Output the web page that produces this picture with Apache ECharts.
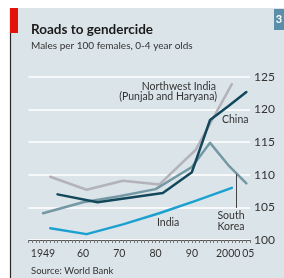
<!DOCTYPE html>
<html><head><meta charset="utf-8">
<script src="https://cdn.jsdelivr.net/npm/echarts@6/dist/echarts.min.js"></script>
<style>html,body{margin:0;padding:0;background:#fff}#c{width:284px;height:278px}</style>
</head><body><div id="c"></div>
<script>
const nwIndiaYears = [1951, 1961, 1971, 1981, 1991, 2001];
const nwIndiaValues = [109.7, 107.7, 109.1, 108.5, 113.8, 123.9];
const indiaYears = [1951, 1961, 1971, 1981, 1991, 2001];
const indiaValues = [101.8, 100.9, 102.4, 104.1, 106.0, 108.0];
const chinaYears = [1953, 1964, 1982, 1990, 1995, 2000, 2005];
const chinaValues = [107.0, 105.8, 107.2, 110.4, 118.4, 120.5, 122.7];
const koreaYears = [1949, 1960, 1970, 1980, 1990, 1995, 2000, 2005];
const koreaValues = [104.1, 105.8, 106.7, 107.8, 111.2, 114.9, 111.5, 108.7];
const xTickValues = [1949, 1960, 1970, 1980, 1990, 2000];
const xTickText = ['1949', '60', '70', '80', '90', '2000'];
const xExtraTickValues = [2005];
const xExtraTickText = ['05'];
const xMin = 1945, xMax = 2006, xStep = 1;
const yMin = 100, yMax = 125, yStep = 5;

const pairs = (xs, ys) => xs.map((x, i) => [x, ys[i]]);

const FONT = 'Lato';
const chart = echarts.init(document.getElementById('c'), null, {renderer: 'canvas'});
const lineSeries = (name, data, color, z) => ({
  name, type: 'line', data, symbol: 'none', smooth: false, z,
  lineStyle: {color, width: 2.5, cap: 'round', join: 'round'}
});
const labelStyle = {color: '#333', fontFamily: FONT, fontSize: 10.5};

chart.setOption({
  backgroundColor: '#dbe4e9',
  animation: false,
  grid: {left: 28.5, right: 34, top: 77, bottom: 38},
  xAxis: [{
    type: 'value', min: xMin, max: xMax, interval: xStep,
    splitLine: {show: false},
    axisLine: {show: true, onZero: false, lineStyle: {color: '#555', width: 1}},
    axisTick: {show: true, length: 3, inside: false, lineStyle: {color: '#777', width: 1}},
    axisLabel: Object.assign({
      customValues: xTickValues, margin: 8,
      formatter: v => xTickText[xTickValues.indexOf(v)] ?? ''
    }, labelStyle)
  }, {
    type: 'value', min: xMin, max: xMax, interval: xStep, position: 'bottom',
    splitLine: {show: false}, axisLine: {show: false}, axisTick: {show: false},
    axisLabel: Object.assign({
      customValues: xExtraTickValues, margin: 8, padding: [0, 0, 0, 4],
      formatter: v => xExtraTickText[xExtraTickValues.indexOf(v)] ?? ''
    }, labelStyle)
  }],
  yAxis: {
    type: 'value', position: 'right', min: yMin, max: yMax, interval: yStep,
    axisLine: {show: false}, axisTick: {show: false},
    splitLine: {show: true, lineStyle: {color: '#ffffff', width: 1.5}},
    axisLabel: {margin: 4, color: '#333', fontFamily: FONT, fontSize: 12}
  },
  series: [
    lineSeries('Northwest India', pairs(nwIndiaYears, nwIndiaValues), '#b4b2ba', 3),
    lineSeries('South Korea', pairs(koreaYears, koreaValues), '#7498a4', 4),
    lineSeries('India', pairs(indiaYears, indiaValues), '#1ca0d0', 5),
    lineSeries('China', pairs(chinaYears, chinaValues), '#12485a', 6)
  ],
  graphic: [
    {type: 'rect', shape: {x: 0, y: 0, width: 284, height: 8}, style: {fill: '#fff'}, z: 100},
    {type: 'rect', shape: {x: 0, y: 0, width: 10, height: 278}, style: {fill: '#fff'}, z: 100},
    {type: 'line', shape: {x1: 10.5, y1: 8, x2: 10.5, y2: 278}, style: {stroke: '#2a2a2a', lineWidth: 1.2}, z: 101},
    {type: 'rect', shape: {x: 10, y: 8, width: 8, height: 25}, style: {fill: '#e3120b'}, z: 101},
    {type: 'rect', shape: {x: 274, y: 9, width: 10, height: 21}, style: {fill: '#5b8ea8'}, z: 101},
    {type: 'text', x: 279, y: 19.5, style: {text: '3', fill: '#fff', font: 'bold 11px ' + FONT, align: 'center', verticalAlign: 'middle'}, z: 102},
    {type: 'text', x: 31, y: 30, style: {text: 'Roads to gendercide', fill: '#1a1a1a', font: 'bold 13.5px ' + FONT, verticalAlign: 'middle'}, z: 102},
    {type: 'text', x: 31, y: 46, style: {text: 'Males per 100 females, 0-4 year olds', fill: '#333', font: '10px ' + FONT, verticalAlign: 'middle'}, z: 102},
    {type: 'text', x: 216, y: 86.5, style: {text: 'Northwest India', fill: '#333', font: '10.5px ' + FONT, align: 'right', verticalAlign: 'middle'}, z: 102},
    {type: 'text', x: 217, y: 96.5, style: {text: '(Punjab and Haryana)', fill: '#333', font: '10.5px ' + FONT, align: 'right', verticalAlign: 'middle'}, z: 102},
    {type: 'text', x: 222, y: 120, style: {text: 'China', fill: '#333', font: '10.5px ' + FONT, verticalAlign: 'middle'}, z: 102},
    {type: 'text', x: 157, y: 223, style: {text: 'India', fill: '#333', font: '10.5px ' + FONT, verticalAlign: 'middle'}, z: 102},
    {type: 'text', x: 231, y: 215.5, style: {text: 'South', fill: '#333', font: '10.5px ' + FONT, align: 'center', verticalAlign: 'middle'}, z: 102},
    {type: 'text', x: 231, y: 227, style: {text: 'Korea', fill: '#333', font: '10.5px ' + FONT, align: 'center', verticalAlign: 'middle'}, z: 102},
    {type: 'line', shape: {x1: 236.5, y1: 174, x2: 236.5, y2: 208}, style: {stroke: '#444', lineWidth: 1}, z: 102},
    {type: 'text', x: 31, y: 271, style: {text: 'Source: World Bank', fill: '#333', font: '9.5px ' + FONT, verticalAlign: 'middle'}, z: 102}
  ]
});
</script></body></html>
